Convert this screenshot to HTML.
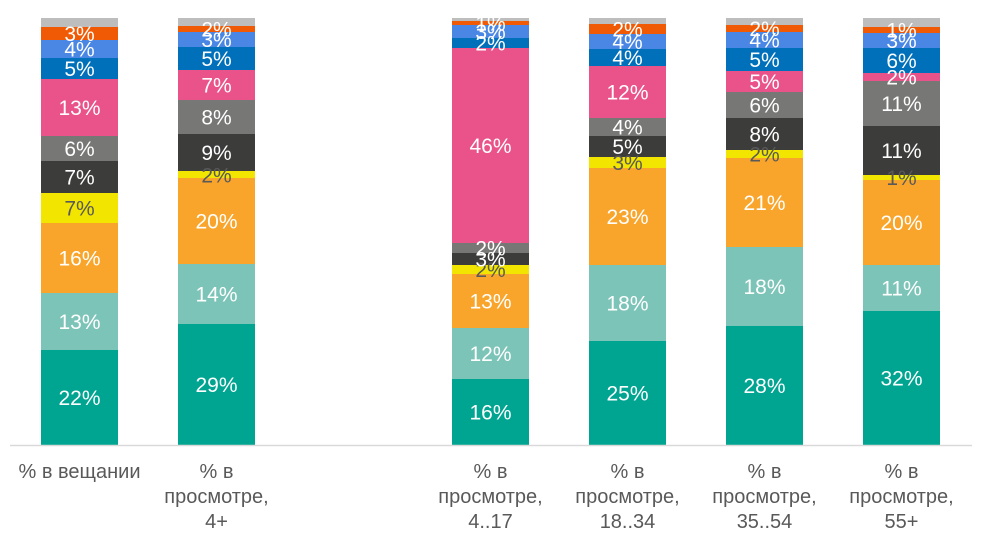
<!DOCTYPE html>
<html><head><meta charset="utf-8"><style>
html,body{margin:0;padding:0;background:#fff;}
svg text{font-family:"Liberation Sans",sans-serif;}
</style></head><body>
<svg width="981" height="539" viewBox="0 0 981 539" xmlns="http://www.w3.org/2000/svg">
<g font-size="21" text-anchor="middle" fill="#fff">
<!-- Bar1 -->
<rect x="41" y="18" width="77" height="9" fill="#BDBDBD"/>
<rect x="41" y="27" width="77" height="13" fill="#F15A05"/>
<rect x="41" y="40" width="77" height="18" fill="#4A86E4"/>
<rect x="41" y="58" width="77" height="21" fill="#0070BA"/>
<rect x="41" y="79" width="77" height="57" fill="#EA5389"/>
<rect x="41" y="136" width="77" height="25" fill="#777776"/>
<rect x="41" y="161" width="77" height="32" fill="#3C3C3B"/>
<rect x="41" y="193" width="77" height="30" fill="#F2E500"/>
<rect x="41" y="223" width="77" height="70" fill="#F9A52B"/>
<rect x="41" y="293" width="77" height="57" fill="#7DC4B8"/>
<rect x="41" y="350" width="77" height="95" fill="#00A591"/>
<text x="79.5" y="405">22%</text><text x="79.5" y="329">13%</text><text x="79.5" y="265.5">16%</text>
<text x="79.5" y="215.5" fill="#595959">7%</text><text x="79.5" y="184.5">7%</text><text x="79.5" y="156">6%</text>
<text x="79.5" y="115">13%</text><text x="79.5" y="76">5%</text><text x="79.5" y="56.5">4%</text><text x="79.5" y="41">3%</text>
<!-- Bar2 -->
<rect x="178" y="18" width="77" height="8" fill="#BDBDBD"/>
<rect x="178" y="26" width="77" height="6" fill="#F15A05"/>
<rect x="178" y="32" width="77" height="15" fill="#4A86E4"/>
<rect x="178" y="47" width="77" height="23" fill="#0070BA"/>
<rect x="178" y="70" width="77" height="30" fill="#EA5389"/>
<rect x="178" y="100" width="77" height="34" fill="#777776"/>
<rect x="178" y="134" width="77" height="37" fill="#3C3C3B"/>
<rect x="178" y="171" width="77" height="7" fill="#F2E500"/>
<rect x="178" y="178" width="77" height="86" fill="#F9A52B"/>
<rect x="178" y="264" width="77" height="60" fill="#7DC4B8"/>
<rect x="178" y="324" width="77" height="121" fill="#00A591"/>
<text x="216.5" y="392">29%</text><text x="216.5" y="301.5">14%</text><text x="216.5" y="228.5">20%</text>
<text x="216.5" y="182.5" fill="#595959">2%</text><text x="216.5" y="160">9%</text><text x="216.5" y="124.5">8%</text>
<text x="216.5" y="92.5">7%</text><text x="216.5" y="66">5%</text><text x="216.5" y="47">3%</text><text x="216.5" y="36.5">2%</text>
<!-- Bar3 -->
<rect x="452" y="18" width="77" height="3" fill="#BDBDBD"/>
<rect x="452" y="21" width="77" height="4" fill="#F15A05"/>
<rect x="452" y="25" width="77" height="13" fill="#4A86E4"/>
<rect x="452" y="38" width="77" height="10" fill="#0070BA"/>
<rect x="452" y="48" width="77" height="195" fill="#EA5389"/>
<rect x="452" y="243" width="77" height="10" fill="#777776"/>
<rect x="452" y="253" width="77" height="12" fill="#3C3C3B"/>
<rect x="452" y="265" width="77" height="9" fill="#F2E500"/>
<rect x="452" y="274" width="77" height="54" fill="#F9A52B"/>
<rect x="452" y="328" width="77" height="51" fill="#7DC4B8"/>
<rect x="452" y="379" width="77" height="66" fill="#00A591"/>
<text x="490.5" y="419.5">16%</text><text x="490.5" y="361">12%</text><text x="490.5" y="308.5">13%</text>
<text x="490.5" y="277" fill="#595959">2%</text><text x="490.5" y="266.5">3%</text><text x="490.5" y="255.5">2%</text>
<text x="490.5" y="153">46%</text><text x="490.5" y="50.5">2%</text><text x="490.5" y="39">3%</text><text x="490.5" y="30.5">1%</text>
<!-- Bar4 -->
<rect x="589" y="18" width="77" height="6" fill="#BDBDBD"/>
<rect x="589" y="24" width="77" height="10" fill="#F15A05"/>
<rect x="589" y="34" width="77" height="15" fill="#4A86E4"/>
<rect x="589" y="49" width="77" height="17" fill="#0070BA"/>
<rect x="589" y="66" width="77" height="52" fill="#EA5389"/>
<rect x="589" y="118" width="77" height="18" fill="#777776"/>
<rect x="589" y="136" width="77" height="21" fill="#3C3C3B"/>
<rect x="589" y="157" width="77" height="11" fill="#F2E500"/>
<rect x="589" y="168" width="77" height="97" fill="#F9A52B"/>
<rect x="589" y="265" width="77" height="76" fill="#7DC4B8"/>
<rect x="589" y="341" width="77" height="104" fill="#00A591"/>
<text x="627.5" y="400.5">25%</text><text x="627.5" y="310.5">18%</text><text x="627.5" y="224">23%</text>
<text x="627.5" y="170" fill="#595959">3%</text><text x="627.5" y="154">5%</text><text x="627.5" y="134.5">4%</text>
<text x="627.5" y="99.5">12%</text><text x="627.5" y="65">4%</text><text x="627.5" y="49">4%</text><text x="627.5" y="36.5">2%</text>
<!-- Bar5 -->
<rect x="726" y="18" width="77" height="7" fill="#BDBDBD"/>
<rect x="726" y="25" width="77" height="7" fill="#F15A05"/>
<rect x="726" y="32" width="77" height="16" fill="#4A86E4"/>
<rect x="726" y="48" width="77" height="23" fill="#0070BA"/>
<rect x="726" y="71" width="77" height="21" fill="#EA5389"/>
<rect x="726" y="92" width="77" height="26" fill="#777776"/>
<rect x="726" y="118" width="77" height="32" fill="#3C3C3B"/>
<rect x="726" y="150" width="77" height="8" fill="#F2E500"/>
<rect x="726" y="158" width="77" height="89" fill="#F9A52B"/>
<rect x="726" y="247" width="77" height="79" fill="#7DC4B8"/>
<rect x="726" y="326" width="77" height="119" fill="#00A591"/>
<text x="764.5" y="393">28%</text><text x="764.5" y="294">18%</text><text x="764.5" y="210">21%</text>
<text x="764.5" y="161.5" fill="#595959">2%</text><text x="764.5" y="141.5">8%</text><text x="764.5" y="112.5">6%</text>
<text x="764.5" y="89">5%</text><text x="764.5" y="67">5%</text><text x="764.5" y="47.5">4%</text><text x="764.5" y="36">2%</text>
<!-- Bar6 -->
<rect x="863" y="18" width="77" height="9" fill="#BDBDBD"/>
<rect x="863" y="27" width="77" height="6" fill="#F15A05"/>
<rect x="863" y="33" width="77" height="15" fill="#4A86E4"/>
<rect x="863" y="48" width="77" height="25" fill="#0070BA"/>
<rect x="863" y="73" width="77" height="8" fill="#EA5389"/>
<rect x="863" y="81" width="77" height="45" fill="#777776"/>
<rect x="863" y="126" width="77" height="49" fill="#3C3C3B"/>
<rect x="863" y="175" width="77" height="5" fill="#F2E500"/>
<rect x="863" y="180" width="77" height="85" fill="#F9A52B"/>
<rect x="863" y="265" width="77" height="46" fill="#7DC4B8"/>
<rect x="863" y="311" width="77" height="134" fill="#00A591"/>
<text x="901.5" y="385.5">32%</text><text x="901.5" y="295.5">11%</text><text x="901.5" y="230">20%</text>
<text x="901.5" y="185" fill="#595959">1%</text><text x="901.5" y="158">11%</text><text x="901.5" y="111">11%</text>
<text x="901.5" y="84.5">2%</text><text x="901.5" y="68">6%</text><text x="901.5" y="48">3%</text><text x="901.5" y="37.5">1%</text>
</g>
<line x1="10" y1="445.5" x2="972" y2="445.5" stroke="#D9D9D9" stroke-width="1.5"/>
<g font-size="20" text-anchor="middle" fill="#595959">
<text x="79.5" y="478">% в вещании</text>
<text x="216.5" y="478">% в</text><text x="216.5" y="503">просмотре,</text><text x="216.5" y="528">4+</text>
<text x="490.5" y="478">% в</text><text x="490.5" y="503">просмотре,</text><text x="490.5" y="528">4..17</text>
<text x="627.5" y="478">% в</text><text x="627.5" y="503">просмотре,</text><text x="627.5" y="528">18..34</text>
<text x="764.5" y="478">% в</text><text x="764.5" y="503">просмотре,</text><text x="764.5" y="528">35..54</text>
<text x="901.5" y="478">% в</text><text x="901.5" y="503">просмотре,</text><text x="901.5" y="528">55+</text>
</g>
</svg>
</body></html>
